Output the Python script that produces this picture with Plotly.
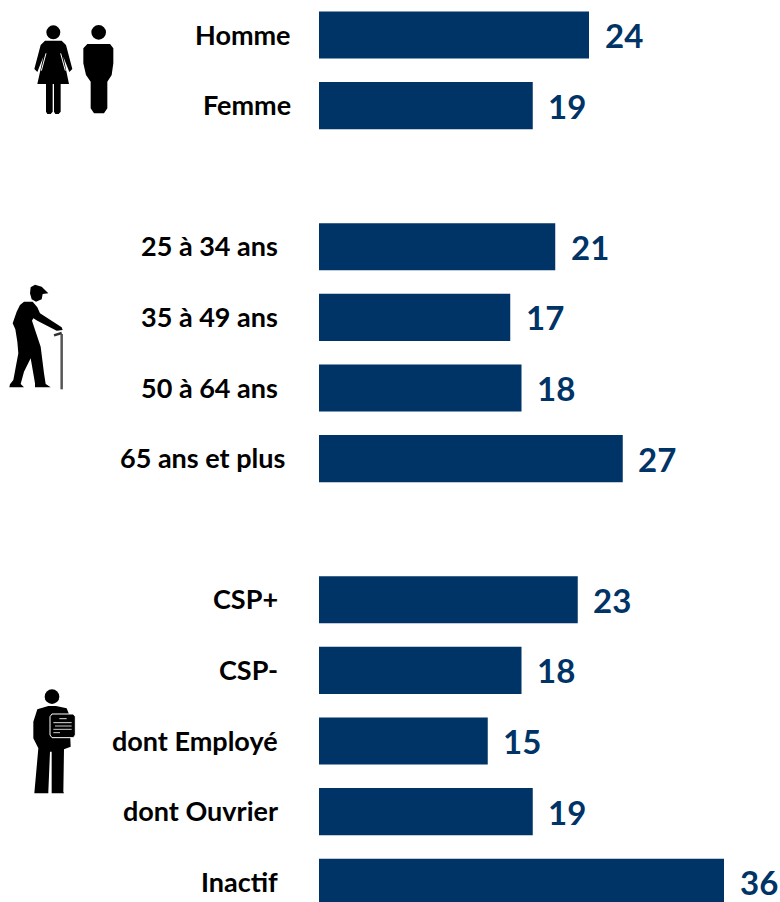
import plotly.graph_objects as go

# ---- data ----
categories = ["Homme", "Femme", "25 à 34 ans", "35 à 49 ans", "50 à 64 ans", "65 ans et plus",
              "CSP+", "CSP-", "dont Employé", "dont Ouvrier", "Inactif"]
values = [24, 19, 21, 17, 18, 27, 23, 18, 15, 19, 36]
rows = [0, 1, 3, 4, 5, 6, 8, 9, 10, 11, 12]

# ---- layout constants ----
W, H = 780, 902
LEFT = 319
NAVY = "#003366"
FONT = "Lato"
label_gap = [28, 28, 41, 41, 41, 34, 41, 41, 41, 41, 41]  # px between label end and axis


def P(x, y):
    return f"{(x - LEFT) / (W - LEFT):.5f},{1 - y / H:.5f}"


def poly(pts, ox, oy, s=1 / 3, fill="black", line=None, lw=0):
    d = "M" + " L".join(P(ox + a * s, oy + b * s) for a, b in pts) + " Z"
    return dict(type="path", xref="paper", yref="paper", path=d, fillcolor=fill,
                line=dict(color=line or fill, width=lw), layer="above")


def seg(a, b, ox, oy, color, w, s=1 / 3):
    d = "M" + P(ox + a[0] * s, oy + a[1] * s) + " L" + P(ox + b[0] * s, oy + b[1] * s)
    return dict(type="path", xref="paper", yref="paper", path=d,
                line=dict(color=color, width=w), layer="above")


def disc(cx, cy, r, ox, oy, s=1 / 3, fill="black"):
    x, y = ox + cx * s, oy + cy * s
    rr = r * s
    return dict(type="circle", xref="paper", yref="paper",
                x0=(x - rr - LEFT) / (W - LEFT), x1=(x + rr - LEFT) / (W - LEFT),
                y0=1 - (y + rr) / H, y1=1 - (y - rr) / H,
                fillcolor=fill, line=dict(width=0), layer="above")


shapes = []
# woman
shapes += [disc(160, 97, 21, 0, 0),
           poly([(135, 122), (185, 122), (198, 135), (217, 207), (208, 216), (190, 170), (207, 252),
                 (182, 252), (182, 335), (176, 342), (166, 342), (162, 335), (162, 252), (158, 252),
                 (158, 335), (152, 342), (142, 342), (138, 335), (138, 252), (112, 252), (130, 170),
                 (112, 216), (103, 207), (122, 135)], 0, 0),
           seg((138, 160), (124, 212), 0, 0, "white", 1), seg((182, 160), (196, 212), 0, 0, "white", 1)]
# man
shapes += [disc(296, 97, 22, 0, 0),
           poly([(262, 132), (330, 132), (340, 145), (340, 190), (335, 225), (322, 245), (322, 325),
                 (312, 340), (282, 340), (272, 325), (272, 245), (258, 225), (250, 190), (250, 145)], 0, 0)]
# old man
ox, oy = 0, 270
shapes += [poly([(90, 70), (92, 52), (105, 44), (125, 50), (145, 70), (128, 72), (125, 88), (108, 95), (95, 88)], ox, oy),
           poly([(72, 95), (98, 95), (112, 112), (120, 130), (185, 172), (188, 180), (170, 182), (112, 152),
                 (100, 145), (96, 152), (122, 230), (132, 310), (137, 342), (152, 352), (105, 352), (105, 340),
                 (92, 265), (72, 305), (62, 342), (72, 352), (28, 352), (30, 343), (40, 330), (55, 250),
                 (52, 215), (46, 178), (38, 160), (50, 125), (60, 105)], ox, oy),
           seg((185, 192), (185, 358), ox, oy, "#555555", 2.5),
           seg((162, 196), (185, 189), ox, oy, "#333333", 2.5)]
# worker
ox, oy = 0, 680
shapes += [disc(156, 50, 22, ox, oy),
           poly([(112, 88), (145, 78), (168, 78), (200, 85), (208, 105), (212, 200), (192, 208), (190, 335),
                 (192, 340), (155, 340), (155, 215), (150, 215), (145, 335), (145, 340), (103, 340), (115, 205),
                 (100, 175), (100, 125)], ox, oy),
           poly([(156, 102), (220, 102), (226, 110), (226, 165), (220, 173), (156, 173), (150, 165), (150, 110)],
                ox, oy, line="white", lw=1)]
for a, b, col in [((178, 116), (200, 116), "#dddddd"), ((160, 128), (215, 128), "#dddddd"),
                  ((165, 138), (215, 138), "#cccccc"), ((160, 148), (215, 148), "#cccccc"),
                  ((160, 158), (180, 158), "#cccccc")]:
    shapes.append(seg(a, b, ox, oy, col, 1))

annotations = []
for cat, val, r, g in zip(categories, values, rows, label_gap):
    annotations.append(dict(x=0, y=r, xref="x", yref="y", text=f"<b>{cat}</b>", showarrow=False,
                            xanchor="right", yanchor="middle", xshift=-g + 2, yshift=1,
                            font=dict(family=FONT, size=27, color="black")))
    annotations.append(dict(x=val, y=r, xref="x", yref="y", text=f"<b>{val}</b>", showarrow=False,
                            xanchor="left", yanchor="middle", xshift=13.5, yshift=0,
                            font=dict(family=FONT, size=33, color=NAVY)))

fig = go.Figure(go.Bar(x=values, y=rows, orientation="h", width=0.667,
                       marker=dict(color=NAVY, line=dict(width=0)),
                       customdata=categories, hovertemplate="%{customdata}: %{x}<extra></extra>"))
fig.update_layout(
    width=W, height=H, autosize=False, showlegend=False,
    margin=dict(l=LEFT, r=0, t=0, b=0, pad=0),
    paper_bgcolor="white", plot_bgcolor="white",
    xaxis=dict(range=[0, (W - LEFT) / 11.25], visible=False, fixedrange=True),
    yaxis=dict(range=[(H - 35) / 70.6, -35 / 70.6], visible=False, fixedrange=True),
    shapes=shapes, annotations=annotations,
)
fig.write_html("out.html", config={"displayModeBar": False},
               post_script="document.body.style.margin='0';document.body.style.overflow='hidden';")
